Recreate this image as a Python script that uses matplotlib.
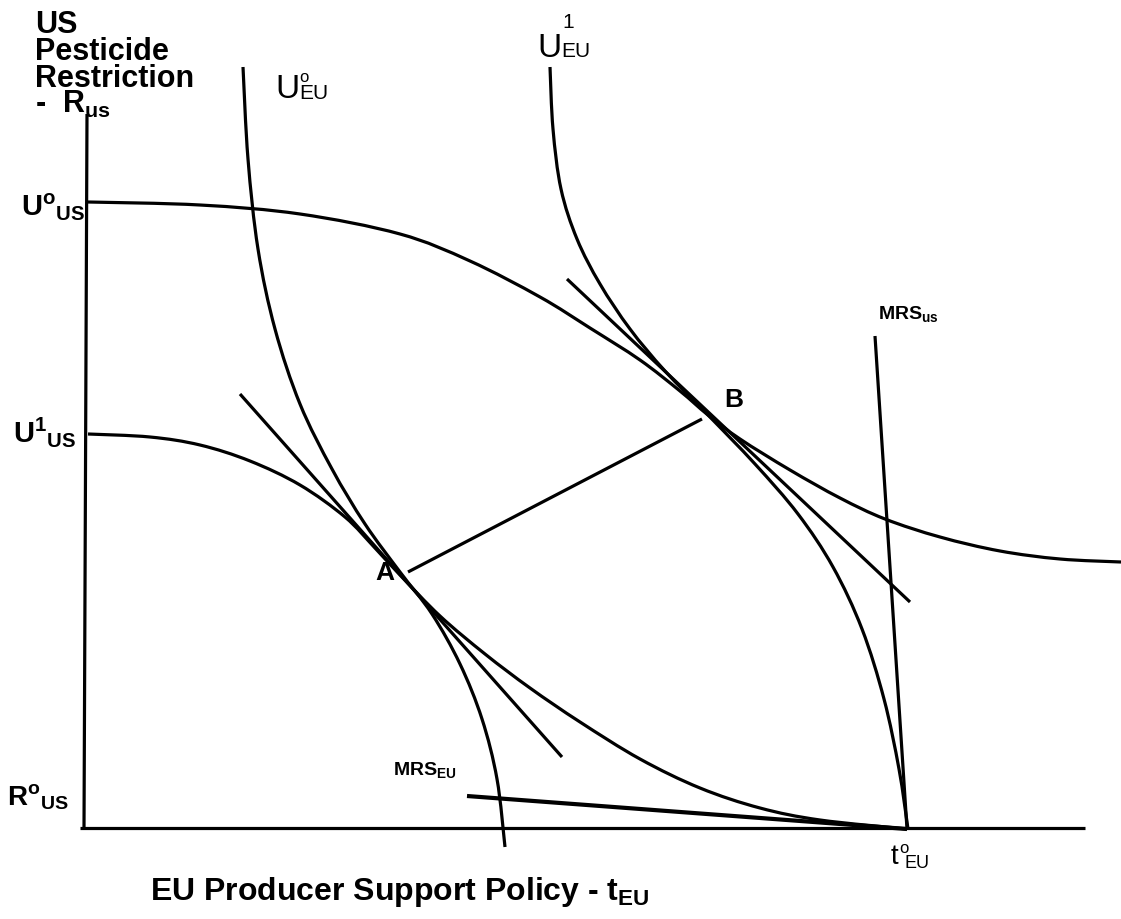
import matplotlib
matplotlib.use("Agg")
import matplotlib.pyplot as plt
from matplotlib.path import Path
from matplotlib.patches import PathPatch
import numpy as np

plt.rcParams['font.family'] = ['Liberation Sans', 'DejaVu Sans']
plt.rcParams['mathtext.fontset'] = 'custom'
plt.rcParams['mathtext.rm'] = 'Liberation Sans'
plt.rcParams['mathtext.it'] = 'Liberation Sans'
plt.rcParams['mathtext.bf'] = 'Liberation Sans:bold'
plt.rcParams['mathtext.default'] = 'rm'

# ---- diagram data (drawing units: x to the right, y downward) ----
u0_us_x = [88, 200, 300, 400, 470, 540, 590, 640, 680, 708, 740, 790, 840, 885, 940, 1000, 1060, 1121]
u0_us_y = [203, 206, 215, 235, 262, 298, 329, 361, 392, 416, 440, 471, 499, 520, 538, 552, 560, 563]

u1_us_x = [88, 150, 200, 250, 300, 345, 375, 400, 440, 485, 530, 580, 640, 700, 760, 820, 907]
u1_us_y = [435, 438, 446, 462, 486, 518, 549, 576, 617, 655, 689, 723, 760, 789, 809, 821, 830]

u0_eu_x = [243, 248, 258, 275, 300, 332, 365, 400, 432, 460, 482, 497, 505]
u0_eu_y = [68, 160, 250, 330, 405, 470, 525, 573, 615, 665, 720, 780, 848]

u1_eu_x = [550, 553, 561, 577, 600, 630, 665, 708, 755, 798, 833, 862, 884, 899, 908]
u1_eu_y = [68, 130, 190, 240, 285, 330, 372, 416, 465, 515, 568, 630, 700, 770, 830]

tangent_a_x = [240, 562]
tangent_a_y = [395, 758]
tangent_b_x = [567, 910]
tangent_b_y = [280, 603]
ab_x = [408, 702]
ab_y = [573, 420]
mrs_us_x = [875, 907]
mrs_us_y = [337, 830]
mrs_eu_x = [467, 907]
mrs_eu_y = [797, 830]
axis_v_x = [87, 84]
axis_v_y = [115, 829]
axis_h_x = [80, 1085]
axis_h_y = [829, 829]

LW = 2.3


def smooth_path(xs, ys):
    p = np.column_stack([xs, ys]).astype(float)
    n = len(p)
    verts = [p[0]]
    codes = [Path.MOVETO]
    for i in range(n - 1):
        p0 = p[i - 1] if i > 0 else p[i]
        p1 = p[i]
        p2 = p[i + 1]
        p3 = p[i + 2] if i + 2 < n else p[i + 1]
        c1 = p1 + (p2 - p0) / 6.0
        c2 = p2 - (p3 - p1) / 6.0
        verts += [c1, c2, p2]
        codes += [Path.CURVE4] * 3
    return Path(verts, codes)


fig = plt.figure(figsize=(11.21, 9.2), dpi=100)
ax = fig.add_axes([0, 0, 1, 1])
ax.set_xlim(0, 1121)
ax.set_ylim(920, 0)
ax.axis('off')

for xs, ys in [(u0_us_x, u0_us_y), (u1_us_x, u1_us_y), (u0_eu_x, u0_eu_y), (u1_eu_x, u1_eu_y)]:
    ax.add_patch(PathPatch(smooth_path(xs, ys), fill=False, lw=LW, color='black',
                           capstyle='butt', joinstyle='round'))

for xs, ys in [(tangent_a_x, tangent_a_y), (tangent_b_x, tangent_b_y), (ab_x, ab_y),
               (mrs_us_x, mrs_us_y), (axis_v_x, axis_v_y), (axis_h_x, axis_h_y)]:
    ax.plot(xs, ys, color='black', lw=LW, solid_capstyle='butt')
ax.plot(mrs_eu_x, mrs_eu_y, color='black', lw=3.0, solid_capstyle='butt')

# ---- text ----
title_lines = ["US", "Pesticide", "Restriction", r"-  R$_{\mathbf{us}}$"]
title_base = [33, 60, 87, 113]
for s, yb in zip(title_lines, title_base):
    ax.text(35, yb, s, fontsize=22, fontweight='bold', va='baseline', ha='left')

ax.text(85, 216, r"U$^{\mathbf{o}}$$_{\mathbf{US}}$", fontsize=21, fontweight='bold',
        va='baseline', ha='right')
ax.text(13, 442, r"U$^{\mathbf{1}}$$_{\mathbf{US}}$", fontsize=21, fontweight='bold',
        va='baseline', ha='left')
ax.text(7, 806, r"R$^{\mathbf{o}}$$_{\mathbf{US}}$", fontsize=20, fontweight='bold',
        va='baseline', ha='left')

# U-EU labels: main letter, superscript above, subscript beneath
ax.text(275, 98, "U", fontsize=24, va='baseline', ha='left')
ax.text(299, 82, "o", fontsize=12, va='baseline', ha='left')
ax.text(299, 99, "EU", fontsize=15, va='baseline', ha='left')

ax.text(537, 57, "U", fontsize=24, va='baseline', ha='left')
ax.text(562, 28, "1", fontsize=15, va='baseline', ha='left')
ax.text(561, 57, "EU", fontsize=15, va='baseline', ha='left')

ax.text(878, 319, r"MRS$_{\mathbf{us}}$", fontsize=14, fontweight='bold', va='baseline', ha='left')
ax.text(393, 775, r"MRS$_{\mathbf{EU}}$", fontsize=14, fontweight='bold', va='baseline', ha='left')

ax.text(385, 573, "A", fontsize=19, fontweight='bold', va='center', ha='center')
ax.text(734, 400, "B", fontsize=19, fontweight='bold', va='center', ha='center')

ax.text(891, 864, "t", fontsize=20, va='baseline', ha='left')
ax.text(899, 853, "o", fontsize=12, va='baseline', ha='left')
ax.text(905, 868, "EU", fontsize=13, va='baseline', ha='left')

ax.text(150, 900, r"EU Producer Support Policy - t$_{\mathbf{EU}}$", fontsize=23,
        fontweight='bold', va='baseline', ha='left')

fig.savefig("out.png", dpi=100, facecolor='white')
